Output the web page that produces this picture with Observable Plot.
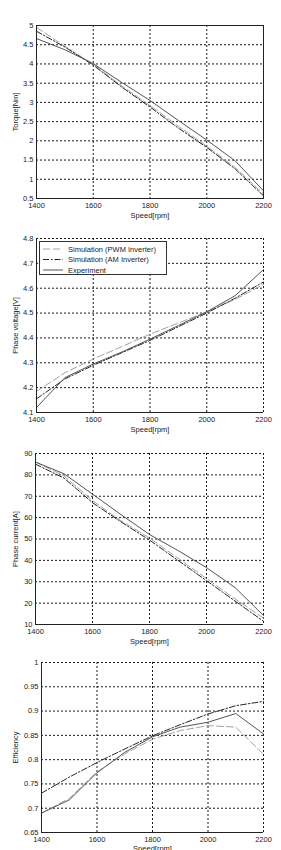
<!DOCTYPE html>
<html>
<head>
<meta charset="utf-8">
<script src="https://cdn.jsdelivr.net/npm/d3@7"></script>
<script src="https://cdn.jsdelivr.net/npm/@observablehq/plot@0.6"></script>
<style>
  html, body { margin: 0; padding: 0; background: #fff; }
  #root { width: 281px; height: 850px; position: relative; overflow: hidden; font-family: "Liberation Sans", Arial, sans-serif; }
  .panel { position: relative; width: 281px; }
  .panel svg { display: block; overflow: visible; }
  .legend { position: absolute; }
</style>
</head>
<body>
<div id="root"></div>
<script>
// ---- data ----
const speed = [1400, 1500, 1600, 1700, 1800, 1900, 2000, 2100, 2200];
const xTicks = [1400, 1600, 1800, 2000, 2200];

const seriesNames = ["Simulation (PWM Inverter)", "Simulation (AM Inverter)", "Experiment"];

const torquePWM = [4.95, 4.46, 3.99, 3.43, 2.92, 2.38, 1.86, 1.31, 0.62];
const torqueAM  = [4.85, 4.44, 3.97, 3.40, 2.88, 2.33, 1.83, 1.27, 0.57];
const torqueExp = [4.66, 4.37, 4.01, 3.52, 3.05, 2.53, 2.02, 1.48, 0.70];
const torqueTicks = [0.5, 1, 1.5, 2, 2.5, 3, 3.5, 4, 4.5, 5];

const voltPWM = [4.185, 4.26, 4.315, 4.365, 4.415, 4.46, 4.505, 4.555, 4.615];
const voltAM  = [4.155, 4.235, 4.29, 4.34, 4.39, 4.445, 4.50, 4.56, 4.625];
const voltExp = [4.12, 4.24, 4.295, 4.343, 4.395, 4.45, 4.505, 4.57, 4.675];
const voltTicks = [4.1, 4.2, 4.3, 4.4, 4.5, 4.6, 4.7, 4.8];

const currPWM = [86, 79.5, 68, 58.5, 50.5, 41, 31.5, 22, 13];
const currAM  = [85, 78.5, 67, 58, 49.5, 40, 30.5, 21, 11.5];
const currExp = [86, 80.5, 71, 61.4, 52.1, 44.6, 36.6, 27.3, 14.2];
const currTicks = [10, 20, 30, 40, 50, 60, 70, 80, 90];

const effPWM = [0.69, 0.72, 0.775, 0.812, 0.842, 0.86, 0.87, 0.867, 0.811];
const effAM  = [0.731, 0.764, 0.794, 0.822, 0.849, 0.872, 0.894, 0.911, 0.92];
const effExp = [0.69, 0.717, 0.773, 0.815, 0.847, 0.867, 0.877, 0.895, 0.853];
const effTicks = [0.65, 0.7, 0.75, 0.8, 0.85, 0.9, 0.95, 1];

// ---- styles ----
const styles = [
  {stroke: "#a3a3a3", strokeWidth: 1, strokeDasharray: "7,3"},
  {stroke: "#262626", strokeWidth: 1, strokeDasharray: "6,2,1.5,2"},
  {stroke: "#555555", strokeWidth: 1, strokeDasharray: null}
];

const FONT = 7.5;
const root = document.getElementById("root");

function panel(cfg) {
  const {values, yTicks, yLabel, h, mt, mb, ml, fullFrame, yLabelOffset, xLabelOffset} = cfg;
  const yDomain = [yTicks[0], yTicks[yTicks.length - 1]];
  const rows = values.flatMap((vals, k) => speed.map((x, i) => ({x, y: vals[i], k})));
  const marks = [
    Plot.gridX(xTicks, {stroke: "#1a1a1a", strokeOpacity: 1, strokeWidth: 1, strokeDasharray: "2,2"}),
    Plot.gridY(yTicks, {stroke: "#1a1a1a", strokeOpacity: 1, strokeWidth: 1, strokeDasharray: "2,2"}),
  ];
  values.forEach((vals, k) => {
    const st = styles[k];
    marks.push(Plot.line(rows.filter(d => d.k === k), {x: "x", y: "y", stroke: st.stroke, strokeWidth: st.strokeWidth, strokeDasharray: st.strokeDasharray}));
  });
  if (fullFrame) {
    marks.push(Plot.frame({stroke: "#222", strokeWidth: 1}));
  } else {
    marks.push(Plot.ruleX([xTicks[0]], {stroke: "#222", strokeWidth: 1}));
    marks.push(Plot.ruleY([yDomain[0]], {stroke: "#222", strokeWidth: 1}));
  }
  marks.push(Plot.axisX(xTicks, {tickSize: 0, tickPadding: 4, fontSize: FONT, fill: "#222",
    label: "Speed[rpm]", labelAnchor: "center", labelOffset: xLabelOffset, labelArrow: "none",
    tickFormat: d3.format("d")}));
  marks.push(Plot.axisY(yTicks, {tickSize: 0, tickPadding: 3, fontSize: FONT, fill: "#222",
    label: yLabel, labelAnchor: "center", labelOffset: yLabelOffset, labelArrow: "none",
    tickFormat: d3.format("~g")}));
  const chart = Plot.plot({
    width: 281, height: h,
    marginLeft: ml, marginRight: 18, marginTop: mt, marginBottom: mb,
    style: {fontFamily: "Liberation Sans, Arial, sans-serif", fontSize: FONT + "px", color: "#222", background: "#fff"},
    x: {domain: [xTicks[0], xTicks[xTicks.length - 1]]},
    y: {domain: yDomain},
    marks
  });
  const div = document.createElement("div");
  div.className = "panel";
  div.style.height = h + "px";
  div.appendChild(chart);
  root.appendChild(div);
  return div;
}

panel({values: [torquePWM, torqueAM, torqueExp], yTicks: torqueTicks, yLabel: "Torque[Nm]",
  h: 222, mt: 25, mb: 24, ml: 36, fullFrame: true, yLabelOffset: 24, xLabelOffset: 19});
const p2 = panel({values: [voltPWM, voltAM, voltExp], yTicks: voltTicks, yLabel: "Phase voltage[V]",
  h: 215, mt: 16, mb: 25, ml: 36, fullFrame: false, yLabelOffset: 24, xLabelOffset: 19});
panel({values: [currPWM, currAM, currExp], yTicks: currTicks, yLabel: "Phase current[A]",
  h: 211, mt: 16, mb: 24, ml: 35, fullFrame: false, yLabelOffset: 23, xLabelOffset: 19});
panel({values: [effPWM, effAM, effExp], yTicks: effTicks, yLabel: "Efficiency",
  h: 202, mt: 14, mb: 18, ml: 41, fullFrame: false, yLabelOffset: 29, xLabelOffset: 18});

// ---- legend in the voltage panel ----
const lw = 128, lh = 34;
const leg = d3.create("svg").attr("class", "legend").attr("width", lw).attr("height", lh)
  .style("left", "39px").style("top", "19px");
leg.append("rect").attr("x", 0.5).attr("y", 0.5).attr("width", lw - 1).attr("height", lh - 1)
  .attr("fill", "#fff").attr("stroke", "#333");
seriesNames.forEach((name, k) => {
  const y = 8 + k * 10.5;
  const st = styles[k];
  leg.append("line").attr("x1", 4).attr("x2", 24).attr("y1", y).attr("y2", y)
    .attr("stroke", st.stroke).attr("stroke-width", 1)
    .attr("stroke-dasharray", st.strokeDasharray);
  leg.append("text").attr("x", 29).attr("y", y).attr("dy", "0.35em")
    .attr("font-size", FONT).attr("fill", "#222")
    .attr("font-family", "Liberation Sans, Arial, sans-serif").text(name);
});
p2.appendChild(leg.node());
</script>
</body>
</html>
